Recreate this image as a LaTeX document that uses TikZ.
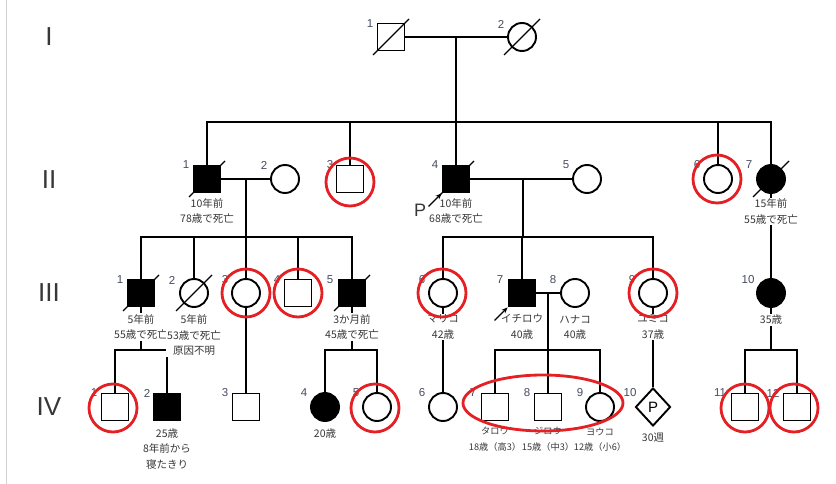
\documentclass[tikz,border=0pt]{standalone}
\usepackage{fontspec}
\setmainfont{Liberation Sans}
\newfontfamily\jpfont{Noto Sans CJK JP}
\usepackage{tikz}
\usetikzlibrary{shapes.geometric, arrows.meta, positioning}
\definecolor{ringred}{RGB}{228,32,36}
\definecolor{numgray}{RGB}{70,76,96}
\definecolor{txtgray}{RGB}{55,55,55}

\begin{document}
\begin{tikzpicture}[
    x=1pt, y=-1pt,
    line width=1.9pt,
    male/.style={rectangle, draw, fill=white, minimum size=27pt, inner sep=0pt},
    female/.style={circle, draw, fill=white, minimum size=28pt, inner sep=0pt},
    sexunknown/.style={diamond, draw, fill=white, minimum width=35pt, minimum height=38pt, inner sep=0pt, font=\fontsize{15}{15}\selectfont},
    affected/.style={fill=black},
    num/.style={font=\fontsize{11.5}{12}\selectfont, text=numgray, inner sep=0pt},
    info/.style={font=\jpfont\fontsize{10.5}{15.5}\selectfont, text=txtgray, align=center, fill=white, inner sep=1pt},
    small/.style={font=\jpfont\fontsize{9.2}{15.5}\selectfont, fill=none},
    gen/.style={font=\fontsize{26}{26}\selectfont, text=txtgray},
    ringmark/.style={circle, draw=ringred, line width=2.8pt, minimum size=48pt, inner sep=0pt},
    dead/.style={line width=1.4pt},
    proband/.style={-{Stealth[length=6pt, width=5pt]}, line width=1.2pt},
]
\useasboundingbox (0,0) rectangle (836,484);
\draw[gray!35, line width=1pt] (6,0) -- (6,484);

% Generations
\node[gen] (genI) at (49,37) {I};
\node[gen] (genII) at (49,180) {II};
\node[gen] (genIII) at (49,293) {III};
\node[gen] (genIV) at (49,407) {IV};

% Generation I
\node[male] (I1) at (391,37) {};
\node[female] (I2) at (522,37) {};
\coordinate (m1) at (456,37);
\coordinate (s1) at (456,122);

% Generation II
\node[male, affected] (II1) at (207,179) {};
\node[female] (II2) at (285,179) {};
\node[male] (II3) at (350,179) {};
\node[male, affected] (II4) at (456,179) {};
\node[female] (II5) at (587,179) {};
\node[female] (II6) at (718,179) {};
\node[female, affected] (II7) at (771,179) {};
\coordinate (m2) at (246,179);
\coordinate (s2) at (246,237);
\coordinate (m3) at (523,179);
\coordinate (s3) at (523,237);

% Generation III
\node[male, affected] (III1) at (141,293) {};
\node[female] (III2) at (194,293) {};
\node[female] (III3) at (246,293) {};
\node[male] (III4) at (298,293) {};
\node[male, affected] (III5) at (352,293) {};
\node[female] (III6) at (443,293) {};
\node[male, affected] (III7) at (522,293) {};
\node[female] (III8) at (575,293) {};
\node[female] (III9) at (653,293) {};
\node[female, affected] (III10) at (771,293) {};
\coordinate (m4) at (548,293);
\coordinate (s4) at (548,350);
\coordinate (s5) at (141,350);
\coordinate (s6) at (352,350);
\coordinate (s7) at (771,350);

% Generation IV
\node[male] (IV1) at (115,407) {};
\node[male, affected] (IV2) at (167,407) {};
\node[male] (IV3) at (246,407) {};
\node[female, affected] (IV4) at (325,407) {};
\node[female] (IV5) at (377,407) {};
\node[female] (IV6) at (443,407) {};
\node[male] (IV7) at (495,407) {};
\node[male] (IV8) at (548,407) {};
\node[female] (IV9) at (600,407) {};
\node[sexunknown] (IV10) at (653,407) {P};
\node[male] (IV11) at (745,407) {};
\node[male] (IV12) at (797,407) {};

% Lines
\draw (I1) -- (I2);
\draw (m1) -- (s1);
\foreach \c in {II1, II3, II4, II6, II7} \draw (\c) |- (s1);
\draw (II1) -- (II2);
\draw (m2) -- (s2);
\foreach \c in {III1, III2, III3, III4, III5} \draw (\c) |- (s2);
\draw (II4) -- (II5);
\draw (m3) -- (s3);
\foreach \c in {III6, III7, III9} \draw (\c) |- (s3);
\draw (II7) -- (III10);
\draw (III7) -- (III8);
\draw (m4) -- (s4);
\foreach \c in {IV7, IV8, IV9} \draw (\c) |- (s4);
\draw (III1) -- (s5);
\foreach \c in {IV1, IV2} \draw (\c) |- (s5);
\draw (III3) -- (IV3);
\draw (III5) -- (s6);
\foreach \c in {IV4, IV5} \draw (\c) |- (s6);
\draw (III6) -- (IV6);
\draw (III9) -- (IV10);
\draw (III10) -- (s7);
\foreach \c in {IV11, IV12} \draw (\c) |- (s7);

% Texts
\node[info, below=3pt of II1] (tII1) {10年前\\78歳で死亡};
\node[info, below=3pt of II4] (tII4) {10年前\\68歳で死亡};
\node[info, below=3pt of II7] (tII7) {15年前\\55歳で死亡};
\node[info, below=5pt of III1] (tIII1) {5年前\\55歳で死亡};
\node[info, below=5pt of III2] (tIII2) {5年前\\53歳で死亡\\原因不明};
\node[info, below=5pt of III5] (tIII5) {3か月前\\45歳で死亡};
\node[info, below=5pt of III6] (tIII6) {マリコ\\42歳};
\node[info, below=5pt of III7] (tIII7) {イチロウ\\40歳};
\node[info, below=5pt of III8] (tIII8) {ハナコ\\40歳};
\node[info, below=5pt of III9] (tIII9) {ユミコ\\37歳};
\node[info, below=5pt of III10] (tIII10) {35歳};
\node[info, below=5pt of IV2] (tIV2) {25歳\\8年前から\\寝たきり};
\node[info, below=5pt of IV4] (tIV4) {20歳};
\node[info, small, below=4pt of IV7] (tIV7) {タロウ\\18歳（高3）};
\node[info, small, below=4pt of IV8] (tIV8) {ジロウ\\15歳（中3）};
\node[info, small, below=4pt of IV9] (tIV9) {ヨウコ\\12歳（小6）};
\node[info, below=4pt of IV10] (tIV10) {30週};

% Numbers
\node[num] (nI1) at (370,24) {1};
\node[num] (nI2) at (501,24) {2};
\node[num] (nII1) at (186,165) {1};
\node[num] (nII2) at (264,165) {2};
\node[num] (nII3) at (330,165) {3};
\node[num] (nII4) at (435,165) {4};
\node[num] (nII5) at (566,165) {5};
\node[num] (nII6) at (697,165) {6};
\node[num] (nII7) at (749,165) {7};
\node[num] (nIII1) at (120,280) {1};
\node[num] (nIII2) at (172,280) {2};
\node[num] (nIII3) at (225,280) {3};
\node[num] (nIII4) at (277,280) {4};
\node[num] (nIII5) at (330,280) {5};
\node[num] (nIII6) at (422,280) {6};
\node[num] (nIII7) at (500,280) {7};
\node[num] (nIII8) at (553,280) {8};
\node[num] (nIII9) at (632,280) {9};
\node[num] (nIII10) at (748,280) {10};
\node[num] (nIV1) at (94,393) {1};
\node[num] (nIV2) at (147,393) {2};
\node[num] (nIV3) at (225,393) {3};
\node[num] (nIV4) at (304,393) {4};
\node[num] (nIV5) at (356,393) {5};
\node[num] (nIV6) at (422,393) {6};
\node[num] (nIV7) at (473,393) {7};
\node[num] (nIV8) at (527,393) {8};
\node[num] (nIV9) at (580,393) {9};
\node[num] (nIV10) at (630,393) {10};
\node[num] (nIV11) at (720,393) {11};
\node[num] (nIV12) at (773,393) {12};

% Deceased
\foreach \c in {I1, I2, II1, II4, II7, III1, III2, III5}
    \draw[dead] ([shift={(-18,18)}]\c.center) -- ([shift={(18,-18)}]\c.center);

% Proband
\node[font=\fontsize{18}{18}\selectfont, text=txtgray] (pII4) at (420,210) {P};
\draw[proband] ([shift={(-13,13)}]II4.south west) -- (II4.south west);
\draw[proband] ([shift={(-13,13)}]III7.south west) -- (III7.south west);

% Marks
\node[ringmark] (rII3) at (350,182) {};
\node[ringmark] (rII6) at (717,179) {};
\node[ringmark] (rIII3) at (246,293) {};
\node[ringmark] (rIII4) at (298,293) {};
\node[ringmark] (rIII6) at (442,293) {};
\node[ringmark] (rIII9) at (653,293) {};
\node[ringmark] (rIV1) at (113,408) {};
\node[ringmark] (rIV5) at (375,408) {};
\node[ringmark] (rIV11) at (745,408) {};
\node[ringmark] (rIV12) at (794,408) {};
\node[ellipse, draw=ringred, line width=2.8pt, minimum width=160pt, minimum height=56pt, inner sep=0pt] (rIV79) at (543,403) {};

\end{tikzpicture}
\end{document}
